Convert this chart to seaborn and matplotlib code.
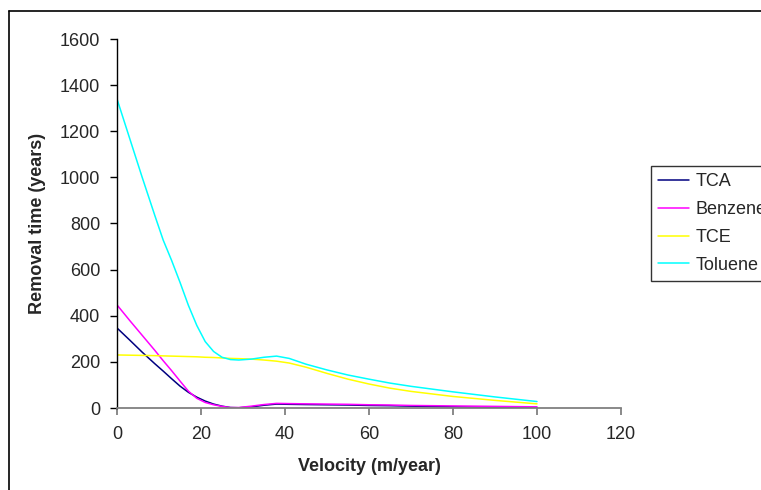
import matplotlib
matplotlib.use("Agg")
import matplotlib.pyplot as plt
import seaborn as sns
import pandas as pd
from matplotlib.lines import Line2D

sns.set_theme(style="white")
plt.rcParams['font.family'] = ['Liberation Sans', 'DejaVu Sans']

velocity = [0, 3, 6, 9, 11, 13, 15, 17, 19, 21, 23, 25, 27, 29, 32, 35, 38, 41,
            45, 50, 55, 60, 65, 70, 80, 90, 100]
tca      = [347, 295, 242, 192, 160, 127, 95, 68, 47, 30, 17, 8, 2, 1, 5, 12, 17, 16,
            15, 14, 13, 11, 10, 8, 5, 3, 2]
benzene  = [447, 380, 315, 250, 205, 162, 117, 73, 42, 24, 14, 7, 2, 2, 8, 15, 20, 19,
            18, 17, 16, 14, 13, 11, 9, 7, 5]
tce      = [230, 229, 228, 227, 226, 225, 224, 223, 222, 220, 219, 217, 215, 214, 212, 208, 203, 195,
            177, 150, 125, 104, 86, 72, 50, 33, 18]
toluene  = [1340, 1170, 1000, 835, 728, 640, 545, 445, 358, 288, 245, 220, 210, 208, 212, 220, 225, 215,
            190, 165, 143, 125, 108, 94, 70, 48, 28]

series = {"TCA": tca, "Benzene": benzene, "TCE": tce, "Toluene": toluene}
colors = {"TCA": "#000080", "Benzene": "#FF00FF", "TCE": "#FFFF00", "Toluene": "#00FFFF"}

rows = []
for name, vals in series.items():
    for v, y in zip(velocity, vals):
        rows.append({"Velocity": v, "Removal": y, "Series": name})
df = pd.DataFrame(rows)

fig = plt.figure(figsize=(7.61, 4.90), dpi=100)
ax = fig.add_axes([117/761, 1-408/490, (621-117)/761, (408-39)/490])

sns.lineplot(data=df, x="Velocity", y="Removal", hue="Series",
             hue_order=list(series.keys()), palette=colors, sort=False,
             linewidth=1.1, ax=ax, legend=False)

ax.set_xlim(0, 120)
ax.set_ylim(0, 1600)
ax.set_xticks(range(0, 121, 20))
ax.set_yticks(range(0, 1601, 200))
for s in ["top", "right"]:
    ax.spines[s].set_visible(False)
ax.spines["left"].set_color("black")
ax.spines["left"].set_linewidth(1.0)
ax.spines["bottom"].set_color("#808080")
ax.spines["bottom"].set_linewidth(1.3)
ax.tick_params(axis="y", direction="out", length=5, width=1, color="black",
               labelsize=13, pad=7, left=True)
ax.tick_params(axis="x", direction="out", length=5, width=1.3, color="#808080",
               labelsize=13, pad=8, bottom=True)
ax.set_xlabel("Velocity (m/year)", fontsize=13, fontweight="bold", labelpad=11)
ax.set_ylabel("Removal time (years)", fontsize=13, fontweight="bold", labelpad=10)
ax.grid(False)

handles = [Line2D([0], [0], color=colors[n], lw=1.1) for n in series]
leg = fig.legend(handles, list(series.keys()), loc="upper left",
                 bbox_to_anchor=(651/761, 1-166/490), frameon=True,
                 fontsize=13, handlelength=1.7, handletextpad=0.35,
                 borderpad=0.4, labelspacing=0.6, fancybox=False,
                 borderaxespad=0)
leg.get_frame().set_edgecolor("black")
leg.get_frame().set_linewidth(1.0)

# outer chart frame (top and left visible, rest clipped)
fig.add_artist(Line2D([9/761, 1.0], [1-11/490, 1-11/490], color="black", lw=1.2,
                      transform=fig.transFigure))
fig.add_artist(Line2D([9/761, 9/761], [0.0, 1-11/490], color="black", lw=1.2,
                      transform=fig.transFigure))

fig.savefig("out.png", dpi=100)
